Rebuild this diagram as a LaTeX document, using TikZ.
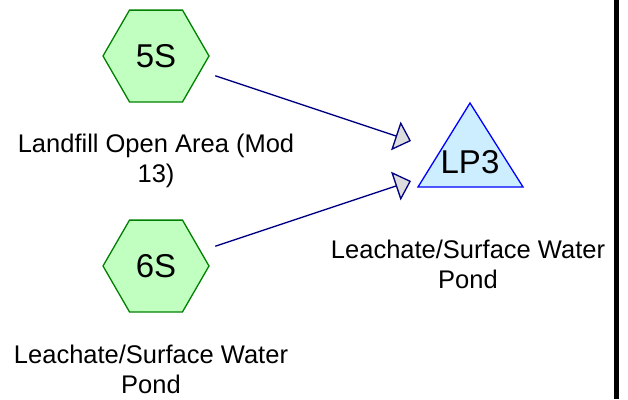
\documentclass[tikz,border=0pt]{standalone}
\usepackage{fontspec}
\setmainfont{Liberation Sans}
\usetikzlibrary{shapes.geometric,arrows.meta}

\definecolor{hexfill}{RGB}{192,255,192}
\definecolor{hexline}{RGB}{0,128,0}
\definecolor{pondfill}{RGB}{204,238,255}
\definecolor{pondline}{RGB}{0,0,255}
\definecolor{linknavy}{RGB}{0,0,128}
\definecolor{tipgray}{RGB}{221,221,221}

\begin{document}
\begin{tikzpicture}[x=1pt,y=-1pt,
  subcat/.style={regular polygon, regular polygon sides=6, minimum size=106pt,
    inner sep=0pt, fill=hexfill, draw=hexline, line width=1.3pt,
    font=\fontsize{33}{33}\selectfont},
  pondshape/.style={fill=pondfill, draw=pondline, line width=1.3pt, line join=miter},
  pondtext/.style={inner sep=0pt, font=\fontsize{33}{33}\selectfont},
  caption/.style={align=center, anchor=base, inner sep=0pt,
    font=\fontsize{25.5}{30}\selectfont},
  link/.style={draw=linknavy, line width=1.3pt, shorten <=15pt,
    -{Triangle[length=16pt,width=30pt,fill=tipgray]}},
  frame/.style={draw=black, line width=4.7pt}]

  \useasboundingbox (0,0) rectangle (628,399);

  % subcatchments (captions anchored on the baseline of their last line)
  \node[subcat] (s5) at (156,56) {5S};
  \node[subcat] (s6) at (156,266) {6S};
  \node[caption] (c5) at (156,182) {Landfill Open Area (Mod\\13)};
  \node[caption] (c6) at (151,393.3) {Leachate/Surface Water\\Pond};

  % pond
  \coordinate (lpTop) at (470,103);
  \coordinate (lpLeft) at (418,187);
  \coordinate (lpRight) at (523,187);
  \path[pondshape] (lpTop) -- (lpLeft) -- (lpRight) -- cycle;
  \node[pondtext] (lp3) at (470,162) {LP3};
  \node[caption] (clp) at (468,288.3) {Leachate/Surface Water\\Pond};

  % routing links
  \coordinate (in5) at (411,141);
  \coordinate (in6) at (411,181);
  \draw[link] (s5) -- (in5);
  \draw[link] (s6) -- (in6);

  % right frame edge
  \coordinate (fTop) at (616.7,0);
  \coordinate (fBot) at (616.7,399);
  \draw[frame] (fTop) -- (fBot);
\end{tikzpicture}
\end{document}
